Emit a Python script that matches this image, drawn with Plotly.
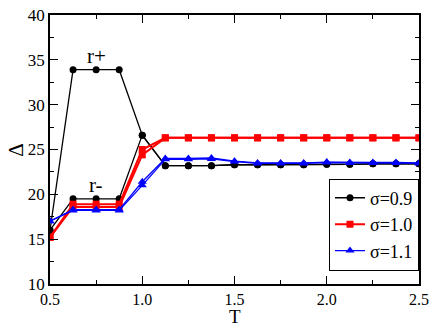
import plotly.graph_objects as go

T = [0.5, 0.625, 0.75, 0.875, 1.0, 1.125, 1.25, 1.375, 1.5, 1.625, 1.75, 1.875, 2.0, 2.125, 2.25, 2.375, 2.5]

s09_plus = [16.0, 33.9, 33.9, 33.9, 26.6, 23.2, 23.2, 23.2, 23.3, 23.3, 23.3, 23.3, 23.35, 23.35, 23.4, 23.4, 23.4]
s09_minus = [16.0, 19.5, 19.5, 19.5, 26.6, 23.2, 23.2, 23.2, 23.3, 23.3, 23.3, 23.3, 23.35, 23.35, 23.4, 23.4, 23.4]
s10_plus = [15.2, 18.9, 18.9, 18.9, 25.0, 26.3, 26.3, 26.3, 26.3, 26.3, 26.3, 26.3, 26.3, 26.3, 26.3, 26.3, 26.3]
s10_minus = [15.2, 18.6, 18.6, 18.6, 24.4, 26.3, 26.3, 26.3, 26.3, 26.3, 26.3, 26.3, 26.3, 26.3, 26.3, 26.3, 26.3]
s11_plus = [17.0, 18.3, 18.3, 18.3, 21.4, 24.0, 24.0, 24.05, 23.7, 23.5, 23.5, 23.5, 23.6, 23.55, 23.55, 23.55, 23.5]
s11_minus = [17.0, 18.2, 18.2, 18.2, 21.0, 23.9, 23.9, 23.95, 23.65, 23.45, 23.45, 23.45, 23.55, 23.5, 23.5, 23.5, 23.45]

labels = ["σ=0.9", "σ=1.0", "σ=1.1"]
x_ticks = [0.5, 1.0, 1.5, 2.0, 2.5]
x_ticklabels = ["0.5", "1.0", "1.5", "2.0", "2.5"]
y_ticks = [10, 15, 20, 25, 30, 35, 40]

serif = "Liberation Serif"

fig = go.Figure()
styles = [
    ("black", "circle", 7, 1.3, s09_plus, s09_minus),
    ("red", "square", 7, 2.0, s10_plus, s10_minus),
    ("blue", "triangle-up", 8, 1.3, s11_plus, s11_minus),
]
for (color, sym, ms, lw, yp, ym), lab in zip(styles, labels):
    fig.add_trace(go.Scatter(x=T, y=ym, mode="lines+markers", showlegend=False,
                             line=dict(color=color, width=lw),
                             marker=dict(color=color, symbol=sym, size=ms)))
    fig.add_trace(go.Scatter(x=T, y=yp, mode="lines+markers", name=lab,
                             line=dict(color=color, width=lw),
                             marker=dict(color=color, symbol=sym, size=ms)))

axis_common = dict(showline=True, linecolor="black", linewidth=1.5, mirror="allticks",
                   ticks="inside", tickcolor="black", ticklen=8, tickwidth=1,
                   showgrid=False, zeroline=False, ticklabeloverflow="allow")

fig.update_xaxes(range=[0.5, 2.5], tickvals=x_ticks, ticktext=x_ticklabels,
                 tickfont=dict(family=serif, size=16, color="black"),
                 minor=dict(ticks="inside", ticklen=4, tickcolor="black", dtick=0.25, tick0=0.5),
                 **axis_common)
fig.update_yaxes(range=[10, 40], tickvals=y_ticks,
                 tickfont=dict(family=serif, size=17, color="black"),
                 minor=dict(ticks="inside", ticklen=4, tickcolor="black", dtick=2.5, tick0=10),
                 **axis_common)

fig.add_annotation(x=0.75, y=35.4, text="r+", showarrow=False,
                   font=dict(family=serif, size=21, color="black"))
fig.add_annotation(x=0.75, y=21.0, text="r-", showarrow=False,
                   font=dict(family=serif, size=21, color="black"))
fig.add_annotation(xref="paper", yref="paper", x=0.5, y=-0.12, yanchor="middle", text="T",
                   borderpad=0, showarrow=False, font=dict(family=serif, size=19, color="black"))
fig.add_annotation(xref="paper", yref="paper", x=-0.094, y=0.5, xanchor="center", yanchor="middle",
                   text="Δ", textangle=-90, borderpad=0,
                   showarrow=False, font=dict(family=serif, size=21, color="black"))

fig.update_layout(
    width=436, height=327,
    margin=dict(l=50, r=17, t=6, b=43),
    paper_bgcolor="white", plot_bgcolor="white",
    font=dict(family=serif, color="black"),
    legend=dict(x=1.0, xanchor="right", y=0.05, yanchor="bottom",
                bordercolor="black", borderwidth=1, bgcolor="white",
                font=dict(family=serif, size=18, color="black"),
                tracegroupgap=0, itemwidth=30),
)

fig.write_html("out.html", config={"displayModeBar": False},
               post_script="document.body.style.margin='0';")
